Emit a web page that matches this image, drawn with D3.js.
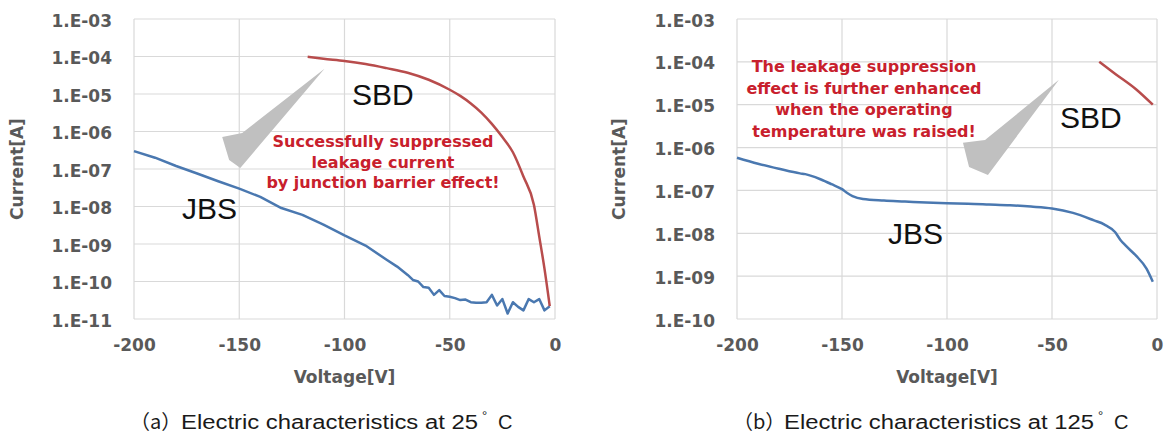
<!DOCTYPE html>
<html>
<head>
<meta charset="utf-8">
<script src="https://cdn.jsdelivr.net/npm/d3@7"></script>
<style>
  body { margin: 0; background: #fff; }
  svg { display: block; }
</style>
</head>
<body>
<svg id="chart" width="1164" height="439"></svg>
<script>
// x ticks (voltage) shared by both panels
var voltTicks = [-200, -150, -100, -50, 0];

// (a) 25 C
var jbs25V = [-200, -190, -180, -170, -160, -150, -140, -130, -120, -110, -100, -90, -80, -75,
  -70, -67.5, -65, -62.5, -60, -57.5, -55, -52.5, -50, -47.5, -45, -42.5, -40, -37.5, -35, -32.5,
  -30, -27.5, -25, -22.5, -20, -17.5, -15, -12.5, -10, -7.5, -5, -2.5];
var jbs25I = [3.0e-7, 2.0e-7, 1.2e-7, 7.6e-8, 4.7e-8, 3.0e-8, 1.8e-8, 9.1e-9, 6.0e-9, 3.3e-9, 1.7e-9, 9.1e-10, 3.8e-10, 2.5e-10,
  1.5e-10, 1.1e-10, 1.0e-10, 7.1e-11, 6.8e-11, 4.4e-11, 5.9e-11, 4.1e-11, 3.9e-11, 3.6e-11, 3.2e-11, 3.3e-11, 2.8e-11, 2.7e-11, 2.7e-11, 2.8e-11,
  4.4e-11, 2.3e-11, 3.4e-11, 1.4e-11, 2.8e-11, 2.1e-11, 1.7e-11, 3.4e-11, 2.8e-11, 3.4e-11, 1.7e-11, 2.2e-11];
var sbd25V = [-117.5, -110, -100, -90, -80, -70, -60, -50, -45, -40, -35, -30, -25, -20, -15, -10, -7.5, -5, -2.5];
var sbd25I = [9.8e-5, 8.7e-5, 7.6e-5, 6.3e-5, 4.9e-5, 3.7e-5, 2.4e-5, 1.3e-5, 8.9e-6, 5.6e-6, 3.2e-6, 1.6e-6, 7.1e-7, 2.8e-7, 6.3e-8, 1.1e-8, 1.6e-9, 2.2e-10, 2.2e-11];
var decades25 = [1e-11, 1e-10, 1e-9, 1e-8, 1e-7, 1e-6, 1e-5, 1e-4, 1e-3];

// (b) 125 C
var jbs125V = [-200, -190, -180, -170, -167.5, -160, -155, -150, -147.5, -145, -140, -130, -120, -110, -100,
  -90, -80, -70, -60, -50, -40, -30, -25, -20, -17.5, -15, -10, -5, -2];
var jbs125I = [5.8e-7, 4.2e-7, 3.2e-7, 2.5e-7, 2.4e-7, 1.8e-7, 1.4e-7, 1.07e-7, 8.7e-8, 7.4e-8, 6.3e-8, 5.8e-8, 5.5e-8, 5.2e-8, 5.0e-8,
  4.9e-8, 4.7e-8, 4.5e-8, 4.2e-8, 3.8e-8, 3.0e-8, 2.0e-8, 1.6e-8, 1.07e-8, 7.1e-9, 5.2e-9, 3.0e-9, 1.5e-9, 7.4e-10];
var sbd125V = [-27.5, -20, -10, -2];
var sbd125I = [1.0e-4, 5.3e-5, 2.3e-5, 1.0e-5];
var decades125 = [1e-10, 1e-9, 1e-8, 1e-7, 1e-6, 1e-5, 1e-4, 1e-3];

// grey call-out arrows, in data units [V, I]
var arrow25 = [[-109.5, 4.7e-5], [-148.6, 9.1e-7], [-158.1, 7.1e-7], [-154.8, 1.74e-7], [-149.5, 1.07e-7]];
var arrow125 = [[-46.7, 3.8e-5], [-81.9, 1.5e-6], [-92.4, 1.3e-6], [-89.5, 3.5e-7], [-80.5, 2.3e-7]];

var noteA = ["Successfully suppressed", "leakage current", "by junction barrier effect!"];
var noteB = ["The leakage suppression", "effect is further enhanced", "when the operating", "temperature was raised!"];

var svg = d3.select("#chart");
var blue = "#4a78b0", red = "#b84c4c", grey = "#595959";
var tickFont = "'DejaVu Sans', Verdana, sans-serif";

function zip(xs, ys) {
  return xs.map(function(v, i) { return [v, ys[i]]; });
}

function fmtExp(d) {
  var e = Math.round(Math.log10(d));
  var s = String(Math.abs(e));
  if (s.length < 2) s = "0" + s;
  return "1.E-" + s;
}

function drawPanel(p) {
  var x = d3.scaleLinear().domain([-200, 0]).range([p.left, p.right]);
  var y = d3.scaleLog().domain([p.decades[0], p.decades[p.decades.length - 1]]).range([p.bottom, p.top]);

  var g = svg.append("g");

  // grid
  g.append("g").selectAll("line.h").data(p.decades).enter().append("line")
    .attr("x1", p.left).attr("x2", p.right)
    .attr("y1", function(d) { return y(d); }).attr("y2", function(d) { return y(d); })
    .attr("stroke", "#d9d9d9").attr("stroke-width", 1.2);
  g.append("g").selectAll("line.v").data(voltTicks).enter().append("line")
    .attr("y1", p.top).attr("y2", p.bottom)
    .attr("x1", function(d) { return x(d); }).attr("x2", function(d) { return x(d); })
    .attr("stroke", "#d9d9d9").attr("stroke-width", 1.2);

  // axes (labels only)
  var ya = g.append("g").attr("transform", "translate(" + (p.left - 19) + ",0)")
    .call(d3.axisLeft(y).tickValues(p.decades).tickFormat(fmtExp).tickSize(0));
  ya.select(".domain").remove();
  ya.selectAll("text").attr("dy", "0.42em")
    .style("font-family", tickFont).style("font-weight", "bold").style("font-size", "17px").attr("fill", grey);

  var xa = g.append("g").attr("transform", "translate(0," + (p.bottom + 16) + ")")
    .call(d3.axisBottom(x).tickValues(voltTicks).tickFormat(function(d) { return String(d); }).tickSize(0));
  xa.select(".domain").remove();
  xa.selectAll("text").attr("dy", "0.75em")
    .style("font-family", tickFont).style("font-weight", "bold").style("font-size", "17px").attr("fill", grey);

  g.append("text").attr("x", (p.left + p.right) / 2).attr("y", 383)
    .attr("text-anchor", "middle").attr("fill", grey)
    .style("font-family", tickFont).style("font-weight", "bold").style("font-size", "17px")
    .text("Voltage[V]");

  g.append("text")
    .attr("transform", "translate(" + p.yTitleX + "," + ((p.top + p.bottom) / 2) + ") rotate(-90)")
    .attr("text-anchor", "middle").attr("fill", grey)
    .style("font-family", tickFont).style("font-weight", "bold").style("font-size", "17px")
    .text("Current[A]");

  // arrow
  g.append("path")
    .attr("d", d3.line().x(function(d) { return x(d[0]); }).y(function(d) { return y(d[1]); })(p.arrow) + "Z")
    .attr("fill", "#c0c0c0");

  // series
  var smooth = d3.line().x(function(d) { return x(d[0]); }).y(function(d) { return y(d[1]); }).curve(d3.curveMonotoneX);
  var straight = d3.line().x(function(d) { return x(d[0]); }).y(function(d) { return y(d[1]); });

  g.append("path").datum(p.jbs).attr("d", p.jbsSmooth ? smooth : straight)
    .attr("fill", "none").attr("stroke", blue).attr("stroke-width", 2.5).attr("stroke-linejoin", "round");
  g.append("path").datum(p.sbd).attr("d", smooth)
    .attr("fill", "none").attr("stroke", red).attr("stroke-width", 2.5).attr("stroke-linejoin", "round");

  // series labels
  g.append("text").attr("x", p.sbdLabel[0]).attr("y", p.sbdLabel[1])
    .style("font-family", "'Liberation Sans', Arial, sans-serif").style("font-size", "30px").attr("fill", "#111")
    .text("SBD");
  g.append("text").attr("x", p.jbsLabel[0]).attr("y", p.jbsLabel[1])
    .style("font-family", "'Liberation Sans', Arial, sans-serif").style("font-size", "30px").attr("fill", "#111")
    .text("JBS");

  // red note
  g.append("g").selectAll("text").data(p.note).enter().append("text")
    .attr("x", p.noteX).attr("y", function(d, i) { return p.noteY + i * p.noteStep; })
    .attr("text-anchor", "middle").attr("fill", "#c8202c")
    .style("font-family", tickFont).style("font-weight", "bold").style("font-size", "16px")
    .text(function(d) { return d; });

  // caption
  var cap = g.append("text").attr("y", 429).attr("fill", "#1a1a1a")
    .style("font-family", "'Liberation Sans', Arial, sans-serif").style("font-size", "20px");
  cap.append("tspan").attr("x", p.left - 4).style("font-family", "'Noto Sans CJK JP', sans-serif").text(p.capTag);
  cap.append("tspan").attr("x", p.left + 47).attr("textLength", p.capLen).attr("lengthAdjust", "spacingAndGlyphs").text(p.capText);
  cap.append("tspan").attr("x", p.left + 48 + p.capLen + 3).attr("dy", -9).style("font-size", "13px").text("°");
  cap.append("tspan").attr("x", p.left + 48 + p.capLen + 19).attr("dy", 9).text("C");
}

drawPanel({
  left: 134, right: 555, top: 19, bottom: 319, yTitleX: 23,
  decades: decades25, jbs: zip(jbs25V, jbs25I), sbd: zip(sbd25V, sbd25I), jbsSmooth: false,
  arrow: arrow25, sbdLabel: [352, 105], jbsLabel: [182, 219],
  note: noteA, noteX: 383, noteY: 147, noteStep: 20.5,
  capTag: "（a）", capText: "Electric characteristics at 25", capLen: 297
});

drawPanel({
  left: 737, right: 1157, top: 19, bottom: 319, yTitleX: 625,
  decades: decades125, jbs: zip(jbs125V, jbs125I), sbd: zip(sbd125V, sbd125I), jbsSmooth: true,
  arrow: arrow125, sbdLabel: [1060, 128], jbsLabel: [888, 244],
  note: noteB, noteX: 864, noteY: 72, noteStep: 21.5,
  capTag: "（b）", capText: "Electric characteristics at 125", capLen: 310
});
</script>
</body>
</html>
